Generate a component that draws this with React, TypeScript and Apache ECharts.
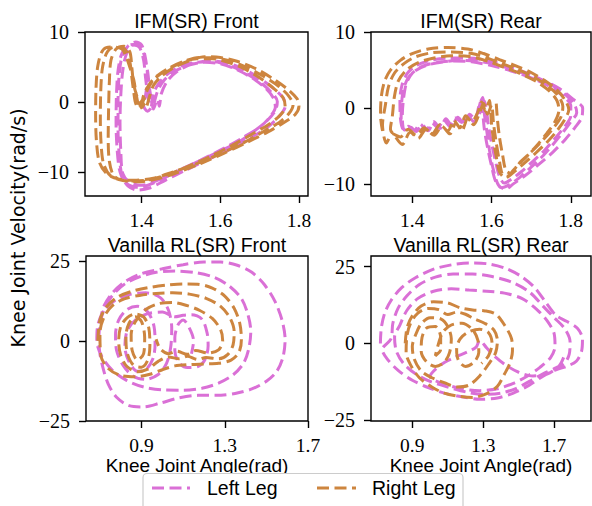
import React, { useEffect, useRef } from 'react';
import * as echarts from 'echarts';

type Pt = [number, number];

const LEFT_COLOR = '#DA70D6';
const RIGHT_COLOR = '#CD853F';

const panelTitles = ['IFM(SR) Front', 'IFM(SR) Rear', 'Vanilla RL(SR) Front', 'Vanilla RL(SR) Rear'];
const legendNames = ['Left Leg', 'Right Leg'];
const xTicksTop = [1.4, 1.6, 1.8];
const yTicksTop = [-10, 0, 10];
const xTicksBottom = [0.9, 1.3, 1.7];
const yTicksBottom = [-25, 0, 25];
const yAxisTitle = 'Knee Joint Velocity(rad/s)';
const xAxisTitle = 'Knee Joint Angle(rad)';

// IFM(SR) Front
const ifmFrontLeft: Pt[] = [
  [1.425, -0.6], [1.43, 1.2], [1.445, 2.8], [1.47, 4.2], [1.5, 5.2], [1.54, 5.7], [1.58, 5.8], [1.62, 5.3],
  [1.66, 4.3], [1.7, 2.9], [1.73, 1.4], [1.745, 0.1], [1.74, -1.2], [1.72, -2.6], [1.69, -4.0], [1.65, -5.6],
  [1.6, -7.0], [1.54, -8.6], [1.48, -10.2], [1.43, -11.6], [1.39, -12.2], [1.36, -11.6], [1.345, -10],
  [1.338, -7], [1.335, -3], [1.336, 1], [1.34, 4.5], [1.35, 7.0], [1.37, 8.2], [1.39, 8.3], [1.405, 7.0],
  [1.415, 4.5], [1.42, 2.0], [1.425, 0.3], [1.43, -1.0], [1.44, 0.4], [1.445, -0.6],
  [1.45, 1.2], [1.465, 3.0], [1.49, 4.4], [1.53, 5.5], [1.57, 5.9], [1.61, 5.7], [1.65, 5.0], [1.69, 3.8],
  [1.73, 2.2], [1.76, 0.6], [1.765, -0.6], [1.75, -2.0], [1.72, -3.6], [1.68, -5.0], [1.63, -6.6],
  [1.57, -8.2], [1.51, -9.8], [1.46, -11.2], [1.42, -12.3], [1.39, -12.6], [1.365, -12.0], [1.35, -10.5],
  [1.343, -7.5], [1.34, -4], [1.34, 0], [1.343, 4], [1.35, 6.5], [1.365, 8.0], [1.385, 8.6], [1.4, 8.2],
  [1.41, 6.2], [1.415, 3.5], [1.41, 1.0], [1.405, -0.5], [1.415, -1.3], [1.43, -0.3],
  [1.44, 1.5], [1.455, 3.0], [1.48, 4.3], [1.52, 5.3], [1.56, 5.7], [1.6, 5.5], [1.64, 4.7], [1.68, 3.5],
  [1.715, 2.0], [1.735, 0.6], [1.74, -0.7], [1.725, -2.2], [1.7, -3.6], [1.66, -5.0], [1.61, -6.6],
  [1.55, -8.3], [1.49, -9.9], [1.44, -11.2], [1.4, -11.9], [1.37, -11.5], [1.352, -10.2], [1.347, -7],
  [1.345, -3], [1.347, 1], [1.352, 4.5], [1.362, 7.0], [1.38, 8.2], [1.395, 7.8], [1.405, 6.0], [1.41, 3.5],
  [1.415, 1.2], [1.42, -0.4],
];
const ifmFrontRight: Pt[] = [
  [1.4, -0.7], [1.405, 1.0], [1.42, 2.6], [1.44, 3.8], [1.47, 4.9], [1.51, 5.9], [1.55, 6.4], [1.59, 6.3],
  [1.63, 5.8], [1.67, 4.9], [1.71, 3.7], [1.75, 2.2], [1.775, 0.8], [1.785, -0.4], [1.775, -1.6], [1.75, -2.9],
  [1.71, -4.2], [1.66, -5.8], [1.6, -7.4], [1.54, -8.8], [1.48, -10.0], [1.43, -10.9], [1.38, -11.2],
  [1.34, -11.0], [1.31, -10.2], [1.292, -8.5], [1.285, -5.5], [1.283, -2], [1.284, 2], [1.288, 5],
  [1.297, 7.0], [1.31, 7.8], [1.33, 7.9], [1.35, 7.6], [1.36, 6.6], [1.37, 5.0], [1.38, 3.2], [1.385, 1.5],
  [1.39, 0], [1.395, -0.9], [1.4, 0.2], [1.41, -0.8],
  [1.42, 0.8], [1.43, 2.4], [1.45, 3.7], [1.48, 4.9], [1.52, 5.9], [1.56, 6.5], [1.6, 6.4], [1.64, 5.9],
  [1.69, 4.8], [1.73, 3.5], [1.77, 1.9], [1.795, 0.5], [1.8, -0.6], [1.79, -1.8], [1.76, -3.0], [1.72, -4.3],
  [1.67, -5.7], [1.61, -7.3], [1.55, -8.8], [1.49, -10.1], [1.44, -11.0], [1.39, -11.4], [1.35, -11.2],
  [1.32, -10.5], [1.303, -8.8], [1.297, -6], [1.295, -2.5], [1.296, 1.5], [1.3, 4.8], [1.31, 6.9],
  [1.325, 7.8], [1.345, 7.9], [1.36, 7.4], [1.37, 5.8], [1.375, 3.6], [1.38, 1.4], [1.385, -0.2],
  [1.395, -0.9], [1.405, 0.3],
  [1.415, 1.8], [1.43, 3.2], [1.46, 4.5], [1.5, 5.6], [1.54, 6.2], [1.58, 6.2], [1.62, 5.7], [1.66, 4.8],
  [1.7, 3.5], [1.735, 2.0], [1.76, 0.6], [1.765, -0.7], [1.75, -2.0], [1.72, -3.3], [1.68, -4.6],
  [1.63, -6.2], [1.57, -7.9], [1.51, -9.4], [1.46, -10.5], [1.41, -11.2], [1.36, -11.3], [1.33, -10.6],
  [1.318, -8.5], [1.315, -5], [1.316, -1], [1.318, 3], [1.322, 6.0], [1.335, 7.6], [1.355, 8.0],
  [1.37, 7.2], [1.375, 5.0], [1.38, 2.5], [1.39, 0.5], [1.4, -0.8], [1.41, 0.2],
];

// IFM(SR) Rear
const ifmRearLeft: Pt[] = [
  [1.372, -1.5], [1.373, 0.5], [1.378, 2.5], [1.39, 4.0], [1.41, 5.0], [1.44, 5.7], [1.48, 6.1], [1.52, 6.3],
  [1.56, 6.2], [1.6, 5.9], [1.64, 5.3], [1.68, 4.6], [1.72, 3.8], [1.76, 2.8], [1.79, 1.6], [1.81, 0.4],
  [1.815, -0.6], [1.8, -1.8], [1.78, -3.2], [1.755, -4.8], [1.73, -6.3], [1.7, -7.8], [1.67, -9.2],
  [1.645, -10.1], [1.625, -10.5], [1.61, -9.6], [1.6, -7.6], [1.59, -5.2], [1.582, -2.8], [1.578, -0.6],
  [1.575, 1.2], [1.565, -0.6], [1.555, -1.8], [1.54, -1.0], [1.525, -1.9], [1.51, -1.3], [1.495, -2.4],
  [1.48, -1.6], [1.465, -2.6], [1.45, -2.0], [1.435, -2.9], [1.42, -2.1], [1.405, -2.9], [1.39, -2.4],
  [1.378, -2.8],
  [1.37, -1.2], [1.369, 1.0], [1.374, 3.0], [1.388, 4.6], [1.41, 5.6], [1.445, 6.3], [1.49, 6.6], [1.54, 6.6],
  [1.59, 6.3], [1.63, 5.7], [1.68, 4.8], [1.725, 3.8], [1.77, 2.6], [1.805, 1.2], [1.83, 0.0], [1.828, -1.2],
  [1.81, -2.6], [1.785, -4.2], [1.755, -5.8], [1.72, -7.4], [1.685, -8.9], [1.655, -10.0], [1.635, -10.7],
  [1.618, -10.2], [1.605, -8.2], [1.595, -5.6], [1.588, -3.0], [1.582, -0.8], [1.578, 1.4], [1.568, 0.2],
  [1.558, -1.5], [1.545, -0.8], [1.53, -2.0], [1.515, -1.2], [1.5, -2.3], [1.485, -1.4], [1.47, -2.7],
  [1.455, -1.8], [1.44, -3.0], [1.425, -2.2], [1.41, -3.1], [1.395, -2.5], [1.38, -2.9],
  [1.375, -1.0], [1.378, 1.2], [1.385, 3.2], [1.4, 4.6], [1.425, 5.5], [1.46, 6.0], [1.5, 6.2], [1.55, 6.1],
  [1.6, 5.6], [1.65, 4.9], [1.7, 4.0], [1.745, 2.9], [1.78, 1.6], [1.8, 0.3], [1.8, -1.0], [1.785, -2.4],
  [1.76, -4.0], [1.735, -5.5], [1.705, -7.0], [1.675, -8.4], [1.65, -9.4], [1.632, -9.9], [1.62, -9.0],
  [1.61, -7.0], [1.6, -4.6], [1.592, -2.2], [1.586, 0.2], [1.58, 1.0], [1.57, -0.8],
];
const ifmRearRight: Pt[] = [
  [1.325, -3.0], [1.32, -1.0], [1.322, 1.5], [1.33, 3.5], [1.345, 5.0], [1.37, 6.3], [1.4, 7.2], [1.44, 7.8],
  [1.49, 8.0], [1.54, 7.8], [1.58, 7.2], [1.62, 6.4], [1.66, 5.6], [1.7, 4.7], [1.735, 3.6], [1.765, 2.4],
  [1.785, 1.1], [1.795, -0.2], [1.785, -1.5], [1.765, -3.0], [1.74, -4.5], [1.71, -6.0], [1.68, -7.4],
  [1.655, -8.5], [1.635, -9.2], [1.62, -8.4], [1.612, -6.4], [1.605, -4.2], [1.6, -2.0], [1.597, 0.2],
  [1.595, 1.0], [1.585, -0.4], [1.575, 0.8], [1.565, -0.6], [1.55, -1.8], [1.535, -1.0], [1.52, -2.6],
  [1.505, -1.6], [1.49, -3.0], [1.47, -2.2], [1.45, -3.4], [1.43, -2.6], [1.41, -3.6], [1.39, -2.8],
  [1.37, -3.8], [1.35, -3.4], [1.335, -4.6],
  [1.325, -2.2], [1.332, 0.3], [1.34, 2.8], [1.355, 4.6], [1.38, 5.9], [1.41, 6.8], [1.45, 7.3], [1.5, 7.4],
  [1.55, 7.2], [1.59, 6.6], [1.63, 5.8], [1.67, 5.0], [1.71, 4.0], [1.745, 2.8], [1.77, 1.5], [1.78, 0.2],
  [1.775, -1.2], [1.755, -2.7], [1.73, -4.2], [1.7, -5.8], [1.675, -7.0], [1.655, -8.2], [1.64, -9.0],
  [1.628, -8.8], [1.62, -7.0], [1.612, -4.6], [1.605, -2.0], [1.6, 0.4], [1.59, -0.8], [1.58, 0.6],
  [1.568, -0.9], [1.555, -2.2], [1.54, -1.4], [1.525, -3.0], [1.51, -2.0], [1.495, -3.4], [1.475, -2.4],
  [1.455, -3.6], [1.435, -2.8], [1.415, -4.0], [1.395, -3.2], [1.375, -4.8], [1.355, -3.6], [1.345, -2.8],
  [1.35, -1.0], [1.355, 1.5], [1.365, 3.6], [1.385, 5.0], [1.415, 6.0], [1.455, 6.6], [1.5, 6.9],
  [1.545, 6.8], [1.59, 6.2], [1.63, 5.4], [1.67, 4.6], [1.71, 3.6], [1.745, 2.3], [1.765, 1.0], [1.77, -0.3],
  [1.76, -1.8], [1.74, -3.3], [1.715, -4.9], [1.69, -6.3], [1.665, -7.6], [1.648, -8.6], [1.636, -8.2],
  [1.628, -6.2], [1.62, -3.8], [1.615, -1.5], [1.612, 0.6],
];

// Vanilla RL(SR) Front
const vanFrontLeft: Pt[] = [
  [0.69, 0], [0.7, 6], [0.72, 11], [0.76, 15], [0.82, 18.5], [0.9, 21], [1.0, 22.5], [1.1, 23.8], [1.2, 24.6],
  [1.28, 24.6], [1.36, 23.6], [1.43, 21.4], [1.49, 17.6], [1.54, 12.5], [1.575, 6.5], [1.59, 0.5],
  [1.58, -5.0], [1.55, -9.5], [1.5, -12.6], [1.43, -15.0], [1.35, -16.4], [1.26, -17.0], [1.17, -17.0],
  [1.08, -17.8], [0.99, -19.4], [0.91, -20.6], [0.84, -20.2], [0.78, -17.6], [0.74, -13.5], [0.715, -8.5],
  [0.7, -4.0], [0.695, 0.5],
  [0.7, 5], [0.72, 10], [0.76, 14.2], [0.82, 17.8], [0.89, 20.0], [0.97, 21.4], [1.06, 21.8], [1.16, 21.3],
  [1.25, 19.8], [1.32, 17.2], [1.38, 13.2], [1.41, 8.5], [1.425, 3.0], [1.415, -2.5], [1.39, -7.0],
  [1.34, -10.6], [1.27, -13.2], [1.19, -14.8], [1.1, -15.4], [1.0, -15.3], [0.91, -14.4], [0.83, -12.4],
  [0.76, -9.2], [0.71, -5.0], [0.685, 0], [0.69, 5.0],
  [0.72, 9.5], [0.77, 12.5], [0.84, 14.5], [0.92, 15.0], [0.99, 13.5], [1.03, 9.5], [1.045, 4.0],
  [1.04, -2.0], [1.02, -7.0], [0.98, -10.5], [0.92, -12.0], [0.86, -11.0], [0.81, -7.5], [0.78, -3.0],
  [0.775, 2.0], [0.79, 6.5], [0.83, 9.8], [0.88, 10.8], [0.93, 9.0], [0.96, 4.5], [0.965, -1.0],
  [0.955, -5.5], [0.92, -9.0], [0.88, -9.5], [0.84, -6.5], [0.82, -2.0], [0.83, 3.0],
  [0.87, 6.5], [0.93, 8.5], [1.0, 9.0], [1.06, 7.5], [1.1, 8.0], [1.14, 8.2], [1.19, 6.8], [1.215, 2.5],
  [1.22, -1.5], [1.205, -5.8], [1.17, -8.0], [1.12, -8.3], [1.08, -6.8], [1.06, -3.0], [1.06, 1.0],
  [1.075, 5.0], [1.1, 6.5], [1.13, 4.0], [1.15, 0], [1.14, -4.0],
];
const vanFrontRight: Pt[] = [
  [0.69, 0], [0.7, 6.5], [0.73, 10.5], [0.78, 13.5], [0.85, 15.4], [0.93, 16.6], [1.02, 17.4], [1.1, 17.8],
  [1.17, 17.7], [1.24, 16.5], [1.3, 14.0], [1.345, 10.2], [1.372, 5.5], [1.38, 0.5], [1.368, -3.6],
  [1.33, -6.0], [1.27, -7.0], [1.2, -7.2], [1.13, -7.4], [1.06, -7.8], [1.0, -9.0], [0.94, -10.4],
  [0.87, -11.2], [0.8, -10.8], [0.74, -8.6], [0.705, -4.8],
  [0.7, 2.5], [0.72, 7.5], [0.76, 11.0], [0.82, 13.2], [0.89, 14.2], [0.97, 14.8], [1.05, 15.0],
  [1.13, 14.6], [1.21, 13.3], [1.28, 10.8], [1.325, 7.2], [1.345, 3.0], [1.34, -1.2], [1.315, -4.2],
  [1.27, -5.6], [1.21, -5.2], [1.17, -5.8], [1.12, -4.8], [1.08, -5.6], [1.03, -5.0], [0.98, -6.4],
  [0.93, -8.8], [0.88, -9.6], [0.83, -8.0], [0.8, -4.5], [0.79, 0], [0.8, 4.5], [0.83, 7.2],
  [0.87, 8.4], [0.91, 7.5], [0.935, 4.0], [0.94, -1.5], [0.93, -6.0], [0.9, -8.2], [0.86, -7.5],
  [0.83, -3.5], [0.825, 1.5], [0.84, 5.5], [0.87, 7.5], [0.9, 6.0], [0.915, 1.0], [0.91, -4.0],
  [0.88, -6.0], [0.855, -3.0], [0.85, 2.0],
  [0.87, 6.0], [0.92, 9.8], [0.98, 11.6], [1.05, 12.0], [1.12, 11.0], [1.18, 9.5], [1.24, 7.0], [1.28, 3.5],
  [1.29, 0], [1.27, -2.8], [1.22, -3.8], [1.16, -3.0], [1.12, -4.2], [1.07, -3.2], [1.03, -4.0],
  [0.99, -2.5], [0.97, 0.5],
];

// Vanilla RL(SR) Rear
const vanRearLeft: Pt[] = [
  [0.72, 0], [0.725, 5], [0.745, 10], [0.78, 14], [0.84, 18.2], [0.92, 21.5], [1.02, 24.2], [1.12, 25.6],
  [1.22, 26.2], [1.32, 26.0], [1.42, 24.6], [1.51, 22.0], [1.59, 18.2], [1.655, 13.2], [1.71, 9.2],
  [1.77, 7.2], [1.83, 5.0], [1.86, 1.5], [1.855, -2.5], [1.825, -5.8], [1.77, -7.5], [1.71, -8.6],
  [1.64, -10.6], [1.56, -13.6], [1.47, -16.2], [1.38, -17.8], [1.28, -18.2], [1.18, -17.4], [1.08, -16.2],
  [0.99, -14.4], [0.9, -12.0], [0.82, -8.8], [0.76, -5.2], [0.73, -2.0],
  [0.78, 1.5], [0.79, 6.5], [0.82, 11.5], [0.87, 15.5], [0.94, 19.2], [1.03, 21.6], [1.13, 22.6],
  [1.24, 22.6], [1.35, 21.8], [1.46, 20.0], [1.56, 16.8], [1.64, 12.0], [1.7, 8.4], [1.76, 4.8],
  [1.79, 0.5], [1.785, -3.6], [1.76, -6.4], [1.71, -8.0], [1.64, -9.8], [1.56, -12.4], [1.48, -14.8],
  [1.4, -16.2], [1.3, -16.6], [1.2, -15.8], [1.1, -14.2], [1.0, -12.4], [0.92, -10.0], [0.85, -6.5],
  [0.81, -2.5], [0.8, 2.0],
  [0.83, 6.0], [0.87, 10.8], [0.93, 14.6], [1.02, 17.0], [1.12, 17.8], [1.22, 17.4], [1.32, 17.0],
  [1.42, 16.4], [1.52, 14.6], [1.6, 11.2], [1.66, 7.4], [1.7, 3.2], [1.705, -1.0], [1.68, -4.6],
  [1.62, -7.8], [1.55, -10.6], [1.47, -13.0], [1.38, -14.8], [1.28, -15.4], [1.18, -14.8], [1.08, -13.2],
  [1.0, -10.8], [1.06, -7.0], [1.14, -4.5], [1.21, -2.8], [1.26, -1.2],
  [1.28, 1.0], [1.32, -1.5], [1.37, -4.5], [1.43, -7.2], [1.5, -9.4], [1.58, -10.6], [1.66, -10.0],
  [1.73, -7.2], [1.76, -3.6],
];
const vanRearRight: Pt[] = [
  [0.86, 0], [0.87, 5.0], [0.9, 9.0], [0.95, 12.2], [1.02, 13.6], [1.1, 13.2], [1.17, 11.6], [1.24, 10.9],
  [1.31, 10.6], [1.37, 9.6], [1.42, 6.0], [1.46, 1.5], [1.465, -2.5], [1.45, -6.5], [1.42, -10.0],
  [1.38, -14.0], [1.32, -16.4], [1.24, -17.6], [1.16, -17.2], [1.08, -16.2], [1.01, -14.2], [0.94, -11.2],
  [0.89, -7.0], [0.865, -3.0],
  [0.87, 2.5], [0.89, 6.5], [0.93, 9.8], [0.99, 11.4], [1.05, 11.0], [1.1, 9.4], [1.15, 10.2], [1.2, 9.5],
  [1.25, 8.0], [1.31, 6.5], [1.36, 4.4], [1.38, 1.0], [1.37, -3.0], [1.33, -6.8], [1.28, -10.6],
  [1.22, -13.6], [1.15, -14.2], [1.08, -12.8], [1.01, -11.2], [0.95, -9.0], [0.91, -5.0], [0.9, -1.0],
  [0.92, 3.0], [0.95, 6.4], [1.0, 8.4], [1.06, 8.0], [1.1, 5.5], [1.12, 1.5], [1.11, -3.0], [1.08, -6.2],
  [1.03, -7.5], [0.98, -6.0], [0.95, -2.5], [0.955, 2.0], [0.98, 5.0], [1.03, 5.5], [1.06, 2.0],
  [1.06, -2.0], [1.03, -4.0],
  [1.07, 3.5], [1.12, 6.0], [1.18, 6.6], [1.24, 4.5], [1.27, 1.0], [1.275, -3.0], [1.25, -6.0],
  [1.2, -7.5], [1.16, -5.5], [1.15, -2.0], [1.17, 1.5], [1.22, 3.8], [1.28, 4.6], [1.33, 3.5], [1.35, 0],
  [1.33, -4], [1.29, -6.5],
];

const panelData: Pt[][][] = [
  [ifmFrontLeft, ifmFrontRight],
  [ifmRearLeft, ifmRearRight],
  [vanFrontLeft, vanFrontRight],
  [vanRearLeft, vanRearRight],
];

// layout of the four axes (pixels) and their visible ranges
const panels = [
  { left: 85, top: 32, width: 223, height: 164, xMin: 1.256, xMax: 1.823, yMin: -13.45, yMax: 10.05, xt: xTicksTop, yt: yTicksTop, lm: 17 },
  { left: 371, top: 32, width: 220, height: 164, xMin: 1.296, xMax: 1.851, yMin: -11.6, yMax: 10.04, xt: xTicksTop, yt: yTicksTop, lm: 17 },
  { left: 86, top: 256, width: 222, height: 165, xMin: 0.633, xMax: 1.7, yMin: -25, yMax: 26.5, xt: xTicksBottom, yt: yTicksBottom, lm: 17.5 },
  { left: 371, top: 256, width: 220, height: 165, xMin: 0.667, xMax: 1.908, yMin: -25.3, yMax: 28.5, xt: xTicksBottom, yt: yTicksBottom, lm: 17.5 },
];

const SANS = '"Liberation Sans", Arial, sans-serif';
const SANS2 = '"DejaVu Sans", sans-serif';
const SERIF = '"Liberation Serif", "Times New Roman", serif';
const fmt = (v: number) => String(v).replace('-', '\u2212');
const DASH = [12, 5.5];

export default function App() {
  const ref = useRef<HTMLDivElement>(null);
  useEffect(() => {
    if (!ref.current) return;
    const chart = echarts.init(ref.current, undefined, { renderer: 'svg' });
    const grid = panels.map((p) => ({
      left: p.left, top: p.top, width: p.width, height: p.height,
      show: true, borderColor: '#000', borderWidth: 1.4, backgroundColor: 'transparent',
    }));
    const xAxis = panels.map((p, i) => ({
      type: 'value', gridIndex: i, min: p.xMin, max: p.xMax, position: 'bottom',
      axisLine: { show: false, onZero: false },
      splitLine: { show: false },
      axisTick: { show: true, inside: false, length: 7, customValues: p.xt, lineStyle: { color: '#000', width: 1.4 } },
      axisLabel: { show: true, customValues: p.xt, margin: p.lm, lineHeight: 14, formatter: fmt, color: '#000', fontSize: 19.5, fontFamily: SERIF },
    }));
    const yAxis = panels.map((p, i) => ({
      type: 'value', gridIndex: i, min: p.yMin, max: p.yMax, position: 'left',
      axisLine: { show: false, onZero: false },
      splitLine: { show: false },
      axisTick: { show: true, inside: false, length: 7, customValues: p.yt, lineStyle: { color: '#000', width: 1.4 } },
      axisLabel: { show: true, customValues: p.yt, margin: 16, lineHeight: 14, formatter: fmt, color: '#000', fontSize: 20, fontFamily: SERIF },
    }));
    const series: any[] = [];
    panelData.forEach((pair, i) => {
      pair.forEach((data, j) => {
        series.push({
          type: 'line', name: legendNames[j], xAxisIndex: i, yAxisIndex: i, data,
          showSymbol: false, symbol: 'none', smooth: 0.3,
          lineStyle: { color: j === 0 ? LEFT_COLOR : RIGHT_COLOR, width: 3, type: DASH },
          z: 2 + j,
        });
      });
    });
    const textStyle = (text: string, extra: any = {}) => ({
      text, fill: '#000', fontSize: 19.5, lineHeight: 14, fontFamily: SANS, align: 'center', verticalAlign: 'middle', ...extra,
    });
    const graphic: any[] = [];
    panels.forEach((p, i) => {
      graphic.push({ type: 'text', x: p.left + p.width / 2, y: p.top - 11.5, style: textStyle(panelTitles[i]) });
    });
    graphic.push({ type: 'text', x: panels[2].left + panels[2].width / 2, y: 465, style: textStyle(xAxisTitle, { fontSize: 19 }) });
    graphic.push({ type: 'text', x: panels[3].left + panels[3].width / 2, y: 465, style: textStyle(xAxisTitle, { fontSize: 19 }) });
    graphic.push({ type: 'text', x: 18, y: 228, rotation: Math.PI / 2, style: textStyle(yAxisTitle, { fontFamily: SANS2, fontSize: 19 }) });
    // legend box
    graphic.push({ type: 'rect', shape: { x: 143, y: 473.5, width: 320, height: 45, r: 4 }, style: { fill: '#fff', stroke: '#cccccc', lineWidth: 1.2 }, z: 10 });
    graphic.push({ type: 'line', shape: { x1: 152, y1: 488, x2: 190, y2: 488 }, style: { stroke: LEFT_COLOR, lineWidth: 3, lineDash: DASH }, z: 11 });
    graphic.push({ type: 'text', x: 207, y: 488, style: textStyle(legendNames[0], { align: 'left' }), z: 11 });
    graphic.push({ type: 'line', shape: { x1: 317, y1: 488, x2: 356, y2: 488 }, style: { stroke: RIGHT_COLOR, lineWidth: 3, lineDash: DASH }, z: 11 });
    graphic.push({ type: 'text', x: 372, y: 488, style: textStyle(legendNames[1], { align: 'left' }), z: 11 });

    chart.setOption({
      animation: false,
      backgroundColor: '#fff',
      grid, xAxis, yAxis, series, graphic,
    });
    return () => chart.dispose();
  }, []);
  return <div ref={ref} style={{ position: 'absolute', left: 0, top: 0, width: 592, height: 506 }} />;
}
